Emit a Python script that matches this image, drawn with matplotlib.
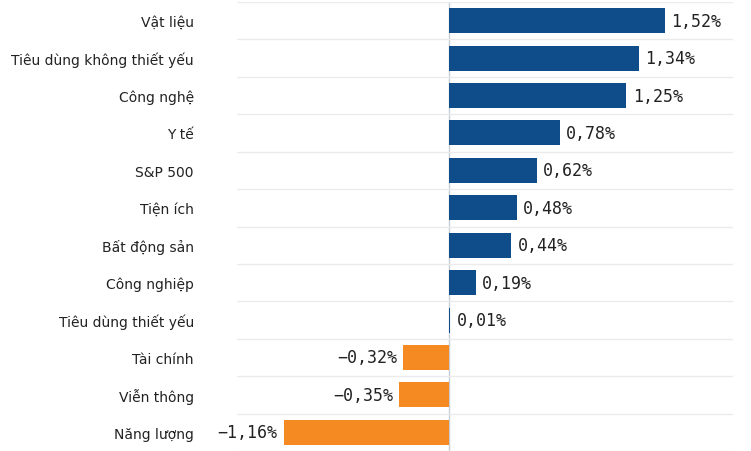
import matplotlib
matplotlib.use("Agg")
import matplotlib.pyplot as plt
from matplotlib.ticker import FixedLocator

categories = ["Vật liệu", "Tiêu dùng không thiết yếu", "Công nghệ", "Y tế", "S&P 500",
              "Tiện ích", "Bất động sản", "Công nghiệp", "Tiêu dùng thiết yếu",
              "Tài chính", "Viễn thông", "Năng lượng"]
values = [1.52, 1.34, 1.25, 0.78, 0.62, 0.48, 0.44, 0.19, 0.01, -0.32, -0.35, -1.16]
labels = ["1,52%", "1,34%", "1,25%", "0,78%", "0,62%", "0,48%", "0,44%", "0,19%",
          "0,01%", "\u22120,32%", "\u22120,35%", "\u22121,16%"]

BLUE = "#0f4c8a"
ORANGE = "#f58a23"

fig = plt.figure(figsize=(7.51, 4.52), dpi=100)
ax = fig.add_axes([237/751, 0/452, (733-237)/751, 449/452])

n = len(categories)
ypos = list(range(n))
colors = [BLUE if v >= 0 else ORANGE for v in values]
ax.axvline(0, color="#c5ccd4", linewidth=1, zorder=1)
ax.barh(ypos, values, height=0.67, color=colors, zorder=2)

ax.set_ylim(n - 0.5, -0.5)
ax.set_xlim(-1.49, 2.0)

ax.set_yticks(ypos)
ax.set_yticklabels(categories, fontsize=10, color="#222222", family="DejaVu Sans")
ax.tick_params(axis="y", length=0, pad=31)
ax.set_xticks([])

ax.yaxis.set_minor_locator(FixedLocator([i - 0.5 for i in range(n + 1)]))
ax.tick_params(axis="y", which="minor", length=0)
ax.grid(True, which="minor", axis="y", color="#ebebeb", linewidth=1, zorder=0)

for s in ax.spines.values():
    s.set_visible(False)

for y, v, lab in zip(ypos, values, labels):
    if v >= 0:
        ax.annotate(lab, (v, y), xytext=(4.5, 0), textcoords="offset points",
                    ha="left", va="center", fontsize=12, family="DejaVu Sans Mono",
                    color="#222222")
    else:
        ax.annotate(lab, (v, y), xytext=(-4.5, 0), textcoords="offset points",
                    ha="right", va="center", fontsize=12, family="DejaVu Sans Mono",
                    color="#222222")

fig.savefig("out.png", dpi=100)
